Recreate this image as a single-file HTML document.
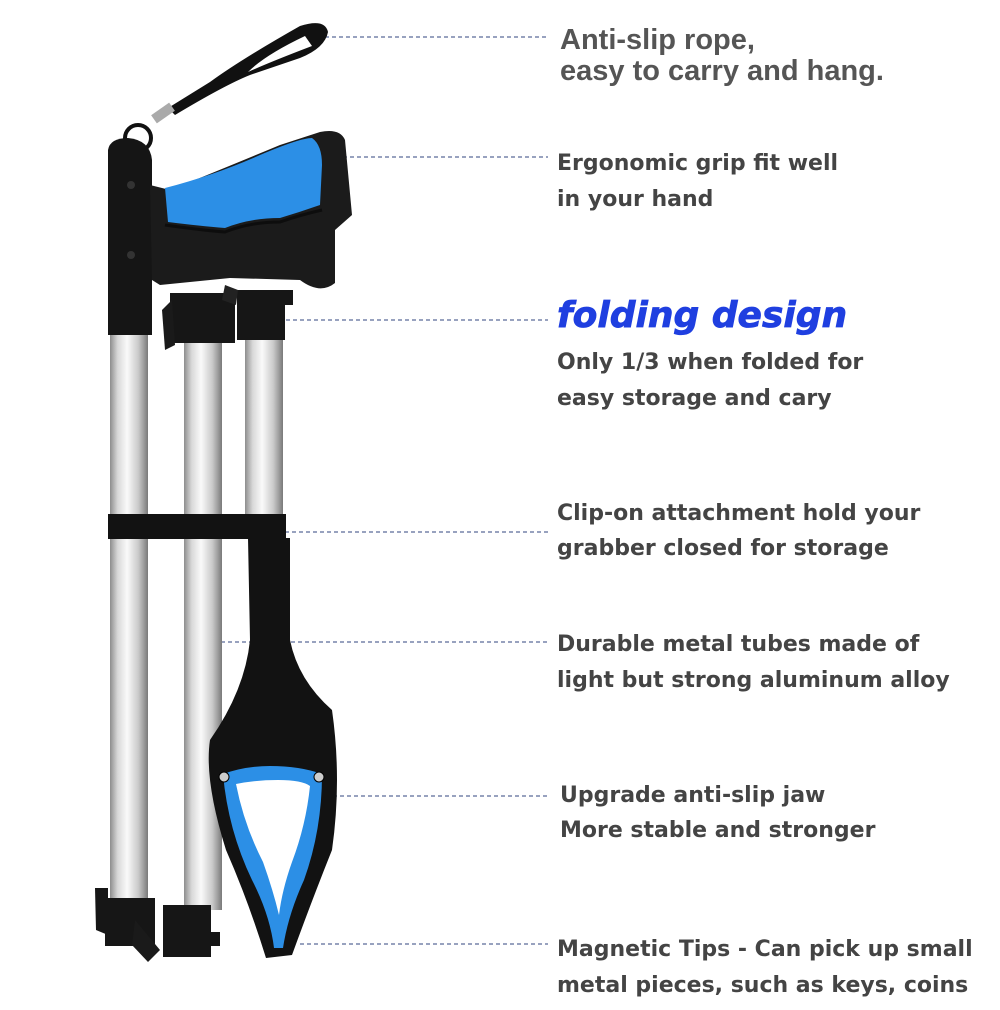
<!DOCTYPE html>
<html><head><meta charset="utf-8"><style>
html,body{margin:0;padding:0;background:#fff}
svg{display:block}
.t{font-family:"DejaVu Sans","Liberation Sans",sans-serif;font-weight:bold;fill:#444;font-size:22px}
</style></head><body>
<svg width="1000" height="1010" viewBox="0 0 1000 1010" xmlns="http://www.w3.org/2000/svg">
<defs>
<linearGradient id="al" x1="0" x2="1">
<stop offset="0" stop-color="#8d8d8d"/><stop offset="0.2" stop-color="#d8d8d8"/><stop offset="0.45" stop-color="#fafafa"/><stop offset="0.75" stop-color="#c9c9c9"/><stop offset="1" stop-color="#7a7a7a"/>
</linearGradient>
</defs>
<g stroke="#5b6b99" stroke-width="1.3" stroke-dasharray="4,3">
<line x1="325" y1="37" x2="548" y2="37"/>
<line x1="322" y1="157" x2="548" y2="157"/>
<line x1="265" y1="320" x2="548" y2="320"/>
<line x1="285" y1="532" x2="548" y2="532"/>
<line x1="200" y1="642" x2="548" y2="642"/>
<line x1="333" y1="796" x2="548" y2="796"/>
<line x1="300" y1="944" x2="548" y2="944"/>
</g>
<!-- rope loop -->
<path d="M168 108 L210 82 Q240 60 300 26 Q325 18 328 32 Q325 48 300 58 L250 75 Q225 85 175 115 Z" fill="#111"/>
<path d="M305 36 Q265 55 248 72 Q270 62 312 46 Z" fill="#fff"/>
<rect x="152" y="108" width="22" height="10" fill="#aaa" transform="rotate(-35 163 113)"/>
<circle cx="138" cy="138" r="13" fill="none" stroke="#111" stroke-width="4"/>
<circle cx="126" cy="152" r="11" fill="none" stroke="#111" stroke-width="4"/>
<rect x="110" y="320" width="38" height="585" fill="url(#al)"/>
<rect x="184" y="330" width="38" height="580" fill="url(#al)"/>
<rect x="245" y="330" width="38" height="200" fill="url(#al)"/>
<path d="M108 150 Q110 138 128 138 Q150 140 152 160 L152 335 L108 335 Z" fill="#151515"/>
<circle cx="131" cy="185" r="4" fill="#333"/><circle cx="131" cy="255" r="4" fill="#333"/>
<!-- grip -->
<path d="M150 185 L170 190 Q220 170 280 145 L320 132 Q340 128 345 140 L352 215 L335 230 L335 283 Q320 295 300 280 L230 278 L160 285 L152 280 Z" fill="#1b1b1b"/>
<path d="M165 188 Q215 175 260 155 Q300 138 312 138 Q322 145 322 165 L320 205 Q300 212 280 218 Q250 218 225 228 Q200 226 168 222 Z" fill="#2c8fe6"/>
<path d="M165 225 Q200 230 225 232 Q250 222 280 222 Q300 215 322 210" stroke="#0d0d0d" stroke-width="3" fill="none"/>
<rect x="170" y="293" width="65" height="50" fill="#161616"/>
<rect x="237" y="290" width="48" height="50" fill="#161616"/>
<rect x="283" y="290" width="10" height="15" fill="#161616"/>
<path d="M162 310 L172 300 L175 345 L165 350 Z" fill="#1a1a1a"/>
<path d="M225 285 L238 290 L236 305 L222 300 Z" fill="#222"/>
<rect x="108" y="514" width="178" height="25" fill="#121212"/>
<!-- jaw -->
<path d="M248 538 L290 538 L290 640 Q298 680 332 710 Q342 780 332 850 Q312 900 292 955 L266 958 Q248 900 226 850 Q204 780 210 740 Q245 690 250 640 Z" fill="#121212"/>
<path d="M223 774 Q245 766 270 766 Q300 766 322 774 Q322 830 304 880 Q288 915 283 948 L274 948 Q270 915 252 880 Q228 830 223 774 Z" fill="#2c8fe6"/>
<path d="M236 784 Q255 780 278 780 Q302 780 310 786 Q306 825 292 862 Q282 890 279 915 Q273 890 263 862 Q244 825 236 784 Z" fill="#fff"/>
<circle cx="224" cy="777" r="5" fill="#ccc" stroke="#000"/>
<circle cx="319" cy="777" r="5" fill="#ccc" stroke="#000"/>
<rect x="105" y="898" width="50" height="48" fill="#161616"/>
<path d="M95 888 L108 888 L108 935 L96 930 Z" fill="#161616"/>
<path d="M135 920 L160 950 L148 962 L132 945 Z" fill="#1a1a1a"/>
<rect x="163" y="905" width="48" height="52" fill="#161616"/>
<rect x="208" y="932" width="12" height="14" fill="#161616"/>
<text x="560" y="49" font-family="Liberation Sans,Arial,sans-serif" font-weight="bold" font-size="29" fill="#555">Anti-slip rope,</text>
<text x="560" y="80" font-family="Liberation Sans,Arial,sans-serif" font-weight="bold" font-size="29" fill="#555">easy to carry and hang.</text>
<text class="t" x="557" y="170">Ergonomic grip fit well</text>
<text class="t" x="557" y="206">in your hand</text>
<text x="557" y="327" font-family="DejaVu Sans,Liberation Sans,sans-serif" font-weight="bold" font-style="italic" font-size="36" fill="#1f3fe0" stroke="#1f3fe0" stroke-width="0.8">folding design</text>
<text class="t" x="557" y="369">Only 1/3 when folded for</text>
<text class="t" x="557" y="405">easy storage and cary</text>
<text class="t" x="557" y="520">Clip-on attachment hold your</text>
<text class="t" x="557" y="555">grabber closed for storage</text>
<text class="t" x="557" y="651">Durable metal tubes made of</text>
<text class="t" x="557" y="687">light but strong aluminum alloy</text>
<text class="t" x="560" y="802">Upgrade anti-slip jaw</text>
<text class="t" x="560" y="837">More stable and stronger</text>
<text class="t" x="557" y="956">Magnetic Tips - Can pick up small</text>
<text class="t" x="557" y="992">metal pieces, such as keys, coins</text>
</svg>
</body></html>
